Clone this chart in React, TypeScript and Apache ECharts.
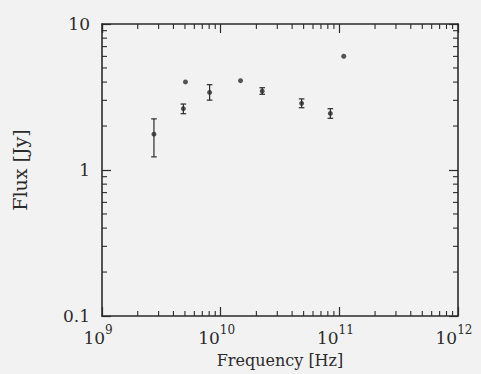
import React, { useEffect, useRef } from 'react';
import * as echarts from 'echarts';

// Measurements with error bars
const freqErr = [2.74e9, 4.85e9, 8.07e9, 2.24e10, 4.81e10, 8.4e10];
const fluxErr = [1.76, 2.63, 3.4, 3.47, 2.86, 2.44];
const fluxLo = [1.23, 2.43, 3.01, 3.3, 2.67, 2.26];
const fluxHi = [2.24, 2.83, 3.84, 3.66, 3.07, 2.63];
// Measurements without error bars
const freqPt = [5.05e9, 1.47e10, 1.09e11];
const fluxPt = [4.01, 4.09, 6.01];
// Axes
const xMin = 1e9;
const xMax = 1e12;
const yMin = 0.1;
const yMax = 10;
const xDecades = [1e9, 1e10, 1e11];
const yDecades = [0.1, 1];
const minorMultipliers = [2, 3, 4, 5, 6, 7, 8, 9];

const INK = '#2b2b2b';
const BG = '#f3f2f3';
const FONT = 'DejaVu Serif';

export default function App() {
  const ref = useRef<HTMLDivElement>(null);
  useEffect(() => {
    if (!ref.current) return;
    const chart = echarts.init(ref.current, null, { renderer: 'svg' });

    const xMinor: number[] = [];
    xDecades.forEach((d) => minorMultipliers.forEach((m) => xMinor.push(d * m)));
    const yMinor: number[] = [];
    yDecades.forEach((d) => minorMultipliers.forEach((m) => yMinor.push(d * m)));

    const errData = freqErr.map((f, i) => [f, fluxErr[i], fluxLo[i], fluxHi[i]]);
    const ptData = [
      ...freqErr.map((f, i) => [f, fluxErr[i]]),
      ...freqPt.map((f, i) => [f, fluxPt[i]]),
    ];

    const baseX = {
      type: 'log' as const,
      logBase: 10,
      min: xMin,
      max: xMax,
      splitLine: { show: false },
      axisLine: { show: true, onZero: false, lineStyle: { color: INK, width: 1.6 } },
      axisTick: { show: true, inside: true, length: 9, lineStyle: { color: INK, width: 1.2 } },
    };
    const baseY = {
      type: 'log' as const,
      logBase: 10,
      min: yMin,
      max: yMax,
      splitLine: { show: false },
      axisLine: { show: true, onZero: false, lineStyle: { color: INK, width: 1.6 } },
      axisTick: { show: true, inside: true, length: 9, lineStyle: { color: INK, width: 1.2 } },
    };

    chart.setOption({
      animation: false,
      backgroundColor: BG,
      grid: { left: 102, right: 23, top: 24, bottom: 58, containLabel: false },
      xAxis: [
        {
          ...baseX,
          position: 'bottom',
          name: 'Frequency [Hz]',
          nameLocation: 'middle',
          nameGap: 36,
          nameTextStyle: { fontFamily: FONT, fontSize: 16, color: INK },
          axisLabel: {
            margin: 8,
            padding: [0, 8, 0, 0],
            formatter: (v: number) => `{b|10}{s|${Math.round(Math.log10(v))}}`,
            rich: {
              b: { fontFamily: FONT, fontSize: 17, color: INK, verticalAlign: 'bottom', lineHeight: 22 },
              s: { fontFamily: FONT, fontSize: 12, color: INK, verticalAlign: 'top', lineHeight: 22 },
            },
          },
        },
        { ...baseX, position: 'top', axisLabel: { show: false } },
      ],
      yAxis: [
        {
          ...baseY,
          position: 'left',
          name: 'Flux [Jy]',
          nameLocation: 'middle',
          nameGap: 73,
          nameRotate: 90,
          nameTextStyle: { fontFamily: FONT, fontSize: 19, color: INK },
          axisLabel: {
            margin: 12,
            fontFamily: FONT,
            fontSize: 17,
            color: INK,
            formatter: (v: number) => (v < 1 ? '0.1' : String(Math.round(v))),
          },
        },
        { ...baseY, position: 'right', axisLabel: { show: false } },
      ],
      series: [
        {
          type: 'custom',
          silent: true,
          xAxisIndex: 0,
          yAxisIndex: 0,
          data: [[xMin, 1]],
          encode: { x: 0, y: 1 },
          renderItem: (_p: any, api: any) => {
            const bl = api.coord([xMin, yMin]);
            const tr = api.coord([xMax, yMax]);
            const children: any[] = [];
            const L = 5;
            const st = { stroke: INK, lineWidth: 1.1 };
            xMinor.forEach((xv) => {
              const px = api.coord([xv, 1])[0];
              children.push({ type: 'line', shape: { x1: px, y1: bl[1], x2: px, y2: bl[1] - L }, style: st });
              children.push({ type: 'line', shape: { x1: px, y1: tr[1], x2: px, y2: tr[1] + L }, style: st });
            });
            yMinor.forEach((yv) => {
              const py = api.coord([xMin, yv])[1];
              children.push({ type: 'line', shape: { x1: bl[0], y1: py, x2: bl[0] + L, y2: py }, style: st });
              children.push({ type: 'line', shape: { x1: tr[0], y1: py, x2: tr[0] - L, y2: py }, style: st });
            });
            return { type: 'group', children };
          },
        },
        {
          type: 'custom',
          xAxisIndex: 0,
          yAxisIndex: 0,
          data: errData,
          encode: { x: 0, y: [1, 2, 3] },
          renderItem: (_p: any, api: any) => {
            const x = api.value(0);
            const lo = api.coord([x, api.value(2)]);
            const hi = api.coord([x, api.value(3)]);
            const c = 2.8;
            const st = { stroke: INK, lineWidth: 1.2 };
            return {
              type: 'group',
              children: [
                { type: 'line', shape: { x1: lo[0], y1: lo[1], x2: hi[0], y2: hi[1] }, style: st },
                { type: 'line', shape: { x1: lo[0] - c, y1: lo[1], x2: lo[0] + c, y2: lo[1] }, style: st },
                { type: 'line', shape: { x1: hi[0] - c, y1: hi[1], x2: hi[0] + c, y2: hi[1] }, style: st },
              ],
            };
          },
        },
        {
          type: 'scatter',
          xAxisIndex: 0,
          yAxisIndex: 0,
          data: ptData,
          symbol: 'circle',
          symbolSize: 5,
          itemStyle: { color: INK },
        },
      ],
    });
    return () => chart.dispose();
  }, []);
  return (
    <div
      ref={ref}
      style={{ position: 'fixed', left: 0, top: 0, width: 481, height: 374 }}
    />
  );
}
